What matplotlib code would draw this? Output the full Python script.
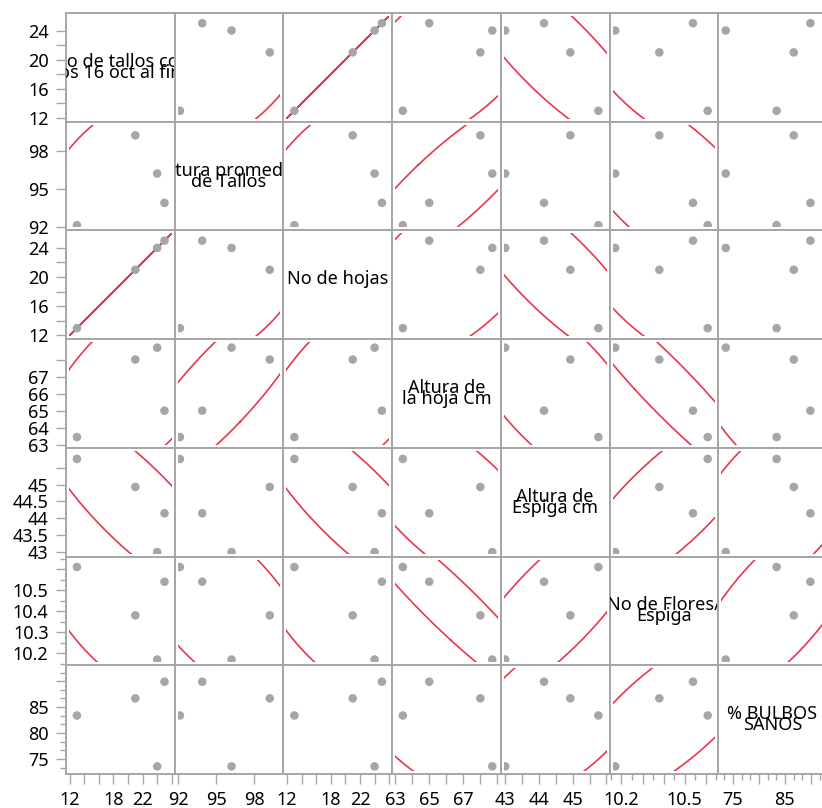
import numpy as np
import matplotlib.pyplot as plt
from matplotlib.patches import Rectangle
from matplotlib.ticker import FixedLocator, FuncFormatter

plt.rcParams['font.family'] = ['Noto Sans', 'DejaVu Sans']

# datos: 4 observaciones por variable
tallos = [13, 21, 24, 25]
altura_tallos = [92.15, 99.2, 96.2, 93.9]
hojas = [13, 21, 24, 25]
altura_hoja = [63.45, 68.0, 68.7, 65.0]
altura_espiga = [45.76, 44.93, 43.0, 44.15]
flores = [10.61, 10.38, 10.17, 10.54]
bulbos = [83.4, 86.7, 73.6, 89.9]

variables = [tallos, altura_tallos, hojas, altura_hoja, altura_espiga, flores, bulbos]

# nombres en la diagonal (cortados en dos renglones)
nombres = [
    ("No de tallos cos", "os 16 oct al fin"),
    ("Altura promedio", "de Tallos"),
    ("No de hojas",),
    ("Altura de", "la hoja Cm"),
    ("Altura de", "Espiga cm"),
    ("No de Flores/", "Espiga"),
    ("% BULBOS", "SANOS"),
]

# rangos y marcas de cada eje
limites = [(11.5, 26.4), (91.74, 100.27), (11.5, 26.4), (62.82, 69.2),
           (42.87, 46.09), (10.143, 10.66), (72.15, 93.08)]
marcas_y = [
    ([12, 14, 16, 18, 20, 22, 24], [12, 16, 20, 24], []),
    ([92, 95, 98], [92, 95, 98], []),
    ([12, 14, 16, 18, 20, 22, 24], [12, 16, 20, 24], []),
    ([63, 64, 65, 66, 67, 68], [63, 64, 65, 66, 67], []),
    ([43, 43.5, 44, 44.5, 45, 45.5], [43, 43.5, 44, 44.5, 45], []),
    ([10.2, 10.3, 10.4, 10.5, 10.6], [10.2, 10.3, 10.4, 10.5],
     [10.15, 10.25, 10.35, 10.45, 10.55, 10.65]),
    ([75, 80, 85, 90], [75, 80, 85],
     [73.33, 76.67, 78.33, 81.67, 83.33, 86.67, 88.33, 91.67]),
]
marcas_x = [
    ([12, 14, 16, 18, 20, 22, 24, 26], [12, 18, 22], []),
    ([92, 95, 98], [92, 95, 98], []),
    ([12, 14, 16, 18, 20, 22, 24, 26], [12, 18, 22], []),
    ([63, 64, 65, 66, 67, 68, 69], [63, 65, 67], []),
    ([43, 43.5, 44, 44.5, 45, 45.5, 46], [43, 44, 45], []),
    ([10.2, 10.3, 10.4, 10.5, 10.6], [10.2, 10.5],
     [10.15, 10.25, 10.35, 10.45, 10.55, 10.65]),
    ([75, 80, 85, 90], [75, 85],
     [73.33, 76.67, 78.33, 81.67, 83.33, 86.67, 88.33, 91.67]),
]

gris = '#a6a6a6'
rojo = '#e8374c'
chi2_95 = -2 * np.log(0.05)


def formato(etiquetas):
    return FuncFormatter(lambda v, p: f'{v:g}' if any(abs(v - e) < 1e-6 for e in etiquetas) else '')


def elipse(x, y, n=600):
    # elipse de densidad normal bivariada al 95%
    x = np.asarray(x, float)
    y = np.asarray(y, float)
    cov = np.cov(x, y)
    val, vec = np.linalg.eigh(cov)
    val = np.clip(val, 0, None)
    t = np.linspace(0, 2 * np.pi, n)
    circ = np.vstack([np.cos(t), np.sin(t)])
    pts = vec @ (np.sqrt(val * chi2_95)[:, None] * circ)
    return x.mean() + pts[0], y.mean() + pts[1]


fig = plt.figure(figsize=(8.22, 8.08), dpi=100)
W, H = 822, 808
x0, y0, lado = 66, 13, 108.7
nv = len(variables)
d = 3 / lado  # margen interior del área de dibujo

for i in range(nv):
    for j in range(nv):
        ax = fig.add_axes([(x0 + j * lado) / W, 1 - (y0 + (i + 1) * lado) / H, lado / W, lado / H])
        ax.set_xlim(limites[j])
        ax.set_ylim(limites[i])
        for s in ax.spines.values():
            s.set_color(gris)
            s.set_linewidth(1.4)
        ax.set_facecolor('white')

        if i == j:
            lineas = nombres[i]
            if len(lineas) == 1:
                ax.text(0.5, 0.5 + 6 / lado, lineas[0], transform=ax.transAxes,
                        ha='center', va='center', fontsize=13, clip_on=True)
            else:
                ax.text(0.5, 0.5 + 5.5 / lado, lineas[0], transform=ax.transAxes,
                        ha='center', va='center', fontsize=13, clip_on=True)
                ax.text(0.5, 0.5 - 5.5 / lado, lineas[1], transform=ax.transAxes,
                        ha='center', va='center', fontsize=13, clip_on=True)
        else:
            marco = Rectangle((d, d), 1 - 2 * d, 1 - 2 * d, transform=ax.transAxes)
            ex, ey = elipse(variables[j], variables[i])
            ln, = ax.plot(ex, ey, color=rojo, lw=1.2, zorder=2)
            ln.set_clip_path(marco)
            sc = ax.scatter(variables[j], variables[i], s=38, color=gris, edgecolors='none', zorder=3)
            sc.set_clip_path(marco)

        ax.tick_params(which='both', direction='out', color=gris, width=1, labelsize=13,
                       labelcolor='black')
        ax.tick_params(which='major', length=7.5, pad=5)
        ax.tick_params(which='minor', length=4)

        if j == 0:
            may, etiq, men = marcas_y[i]
            ax.yaxis.set_major_locator(FixedLocator(may))
            ax.yaxis.set_major_formatter(formato(etiq))
            ax.yaxis.set_minor_locator(FixedLocator(men))
        else:
            ax.set_yticks([])
        if i == nv - 1:
            may, etiq, men = marcas_x[j]
            ax.xaxis.set_major_locator(FixedLocator(may))
            ax.xaxis.set_major_formatter(formato(etiq))
            ax.xaxis.set_minor_locator(FixedLocator(men))
        else:
            ax.set_xticks([])

fig.savefig('out.png', dpi=100, facecolor='white')
